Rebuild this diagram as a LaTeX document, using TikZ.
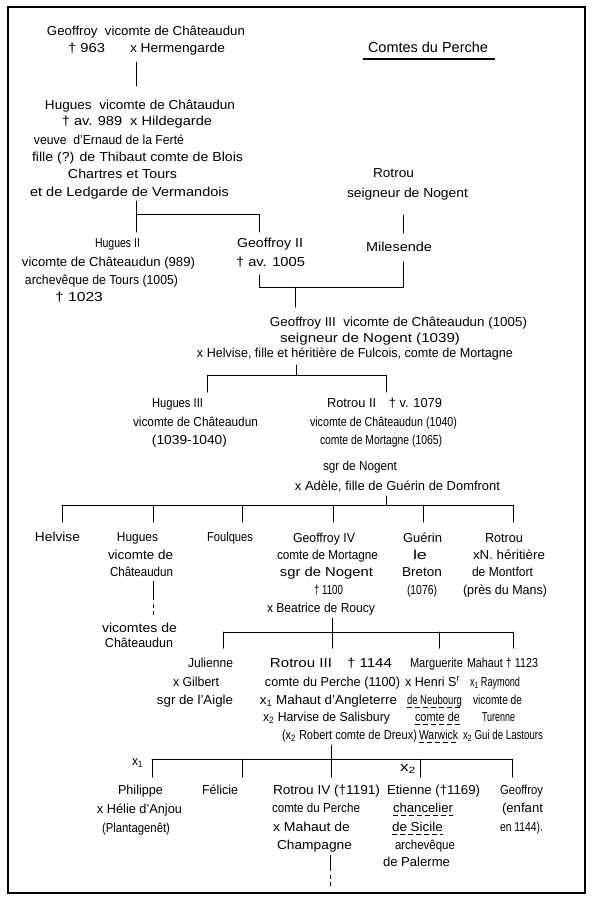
\documentclass[tikz,border=0pt]{standalone}
\usepackage{fontspec}
\setmainfont{Liberation Sans}
\tikzset{
  txt/.style={font=\fontsize{13}{15}\selectfont, anchor=base, inner sep=0pt},
  link/.style={line width=1pt, line cap=round},
  taillink/.style={line width=1pt, dash pattern=on #1 off 4pt on 4pt off 3pt on 4pt off 3pt},
  uline/.style={line width=0.8pt, dash pattern=on 5pt off 3pt},
  frame/.style={line width=1.2pt},
}
\newlength\plen
\newsavebox\pbox
\newcommand\ptext[5]{\plen=\dimexpr #3pt-#2pt\relax
  \node[txt] (#1) at ({(#2+#3)/2},#4+4) {\sbox\pbox{#5}\resizebox{\plen}{\ht\pbox}{\usebox\pbox}};}
\newcommand\dunder[1]{\draw[uline] ([yshift=-3pt]#1.base west) -- ([yshift=-3pt]#1.base east);}
\begin{document}
\begin{tikzpicture}[x=1pt,y=-1pt]
\useasboundingbox (0,0) rectangle (592,900);
\draw[frame] (8,7) rectangle (585,893);

% title
\ptext{title}{368}{488}{48}{\fontsize{14.5}{16}\selectfont Comtes du Perche}
\draw[line width=1.3pt] (363,59) coordinate (tul) -- (495,59) coordinate (tur);

% Geoffroy
\ptext{g1a}{47}{245}{31}{Geoffroy\ \ vicomte de Châteaudun}
\ptext{g1b}{68}{105}{48}{† 963}
\ptext{g1c}{130}{225}{48}{x Hermengarde}
\draw[link] (136,62) coordinate (g1bot) -- (136,86) coordinate (h1top);

% Hugues
\ptext{h1a}{45}{235}{105}{Hugues\ \ vicomte de Châtaudun}
\ptext{h1b}{62}{212}{121}{† av. 989\ \ x Hildegarde}
\ptext{h1c}{34}{184}{140}{veuve\ \ d'Ernaud de la Ferté}
\ptext{h1d}{32}{243}{157}{fille (?) de Thibaut comte de Blois}
\ptext{h1e}{68}{177}{174}{Chartres et Tours}
\ptext{h1f}{30}{229}{192}{et de Ledgarde de Vermandois}
\draw[link] (136,201) coordinate (h1bot) -- (136,214) coordinate (b1l);
\draw[link] (136,232) coordinate (h2top) -- (b1l) -- (259,214) coordinate (b1r) -- (259,232) coordinate (gf2top);

% Hugues II
\ptext{h2a}{95}{140}{243}{Hugues II}
\ptext{h2b}{22}{195}{262}{vicomte de Châteaudun (989)}
\ptext{h2c}{25}{178}{280}{archevêque de Tours (1005)}
\ptext{h2d}{55}{103}{297}{† 1023}

% Geoffroy II
\ptext{gf2a}{237}{303}{243}{Geoffroy II}
\ptext{gf2b}{236}{305}{262}{† av. 1005}

% Rotrou / Milesende
\ptext{r0a}{373}{414}{173}{Rotrou}
\ptext{r0b}{347}{468}{193}{seigneur de Nogent}
\draw[link] (403,215) coordinate (r0bot) -- (403,233) coordinate (miltop);
\ptext{mil}{366}{432}{247}{Milesende}
\draw[link] (259,275) coordinate (gf2bot) -- (259,287) coordinate (b2l) -- (403,287) coordinate (b2r) -- (403,262) coordinate (milbot);
\draw[link] (295,287) coordinate (b2m) -- (295,307) coordinate (g3top);

% Geoffroy III
\ptext{g3a}{270}{527}{322}{Geoffroy III\ \ vicomte de Châteaudun (1005)}
\ptext{g3b}{280}{460}{338}{seigneur de Nogent (1039)}
\ptext{g3c}{197}{513}{353}{x Helvise, fille et héritière de Fulcois, comte de Mortagne}
\draw[link] (296,365) coordinate (g3bot) -- (296,375) coordinate (b3m);
\draw[link] (207,392) coordinate (h3top) -- (207,375) coordinate (b3l) -- (386,375) coordinate (b3r) -- (386,392) coordinate (r2top);

% Hugues III
\ptext{h3a}{152}{203}{403}{Hugues III}
\ptext{h3b}{133}{258}{422}{vicomte de Châteaudun}
\ptext{h3c}{152}{227}{440}{(1039-1040)}

% Rotrou II
\ptext{r2a}{327}{442}{403}{Rotrou II\quad † v. 1079}
\ptext{r2b}{310}{457}{422}{vicomte de Châteaudun (1040)}
\ptext{r2c}{320}{442}{440}{comte de Mortagne (1065)}
\ptext{r2d}{323}{397}{466}{sgr de Nogent}
\ptext{r2e}{295}{500}{486}{x Adèle, fille de Guérin de Domfront}
\draw[link] (386,496) coordinate (r2bot) -- (386,505) coordinate (b4m);
\draw[link] (62,505) coordinate (b4l) -- (513,505) coordinate (b4r);
\foreach \xx/\nn in {62/heltop,153/hu4top,242/foutop,333/g4top,423/guetop,513/rottop}
  \draw[link] (\xx,505) -- (\xx,522) coordinate (\nn);

% row 1
\ptext{hel}{35}{80}{537}{Helvise}
\ptext{hu4a}{117}{158}{537}{Hugues}
\ptext{hu4b}{108}{173}{555}{vicomte de}
\ptext{hu4c}{110}{173}{572}{Châteaudun}
\draw[taillink=19pt] (153,581) coordinate (hu4bot) -- (153,617) coordinate (vctop);
\ptext{vca}{102}{177}{628}{vicomtes de}
\ptext{vcb}{105}{173}{643}{Châteaudun}
\ptext{fou}{207}{253}{537}{Foulques}
\ptext{g4a}{293}{355}{538}{Geoffroy IV}
\ptext{g4b}{277}{378}{555}{comte de Mortagne}
\ptext{g4c}{280}{373}{572}{sgr de Nogent}
\ptext{g4d}{314}{343}{590}{† 1100}
\ptext{g4e}{267}{375}{608}{x Beatrice de Roucy}
\ptext{guea}{403}{442}{538}{Guérin}
\ptext{gueb}{413}{427}{555}{le}
\ptext{guec}{402}{442}{572}{Breton}
\ptext{gued}{407}{437}{590}{(1076)}
\ptext{rota}{485}{523}{538}{Rotrou}
\ptext{rotb}{473}{545}{555}{xN. héritière}
\ptext{rotc}{472}{533}{572}{de Montfort}
\ptext{rotd}{463}{547}{590}{(près du Mans)}

\draw[link] (332,618) coordinate (g4bot) -- (332,632) coordinate (b5m);
\draw[link] (223,632) coordinate (b5l) -- (513,632) coordinate (b5r);
\foreach \xx/\nn in {223/jultop,332/r3top,439/martop,513/mahtop}
  \draw[link] (\xx,632) -- (\xx,648) coordinate (\nn);

% row 2
\ptext{jula}{188}{233}{663}{Julienne}
\ptext{julb}{173}{219}{682}{x Gilbert}
\ptext{julc}{157}{233}{700}{sgr de l'Aigle}
\ptext{r3a}{270}{392}{663}{Rotrou III\quad † 1144}
\ptext{r3b}{265}{400}{682}{comte du Perche (1100)}
\ptext{r3c}{260}{397}{700}{x\textsubscript{1} Mahaut d'Angleterre}
\ptext{r3d}{263}{390}{717}{x\textsubscript{2} Harvise de Salisbury}
\ptext{r3e}{282}{417}{735}{(x\textsubscript{2} Robert comte de Dreux)}
\ptext{mara}{410}{463}{663}{Marguerite}
\ptext{marb}{405}{460}{682}{x Henri S\textsuperscript{r}}
\ptext{marc}{407}{462}{700}{de Neubourg}
\ptext{mard}{415}{460}{717}{comte de}
\ptext{mare}{419}{458}{735}{Warwick}
\dunder{marc}\dunder{mard}\dunder{mare}
\ptext{maha}{467}{538}{663}{Mahaut † 1123}
\ptext{mahb}{470}{520}{682}{x\textsubscript{1} Raymond}
\ptext{mahc}{473}{522}{700}{vicomte de}
\ptext{mahd}{482}{515}{717}{Turenne}
\ptext{mahe}{463}{543}{735}{x\textsubscript{2} Gui de Lastours}

\draw[link] (331,745) coordinate (r3bot) -- (331,759) coordinate (b6m);
\draw[link] (152,759) coordinate (b6l) -- (512,759) coordinate (b6r);
\foreach \xx/\nn in {152/phitop,242/feltop,331/r4top,420/etitop,512/geotop}
  \draw[link] (\xx,759) -- (\xx,777) coordinate (\nn);
\ptext{x1}{132}{143}{761}{x\textsubscript{1}}
\ptext{x2}{400}{416}{767}{x\textsubscript{2}}

% row 3
\ptext{phia}{118}{163}{790}{Philippe}
\ptext{phib}{97}{182}{809}{x Hélie d'Anjou}
\ptext{phic}{102}{170}{828}{(Plantagenêt)}
\ptext{fel}{202}{238}{790}{Félicie}
\ptext{r4a}{273}{380}{790}{Rotrou IV (†1191)}
\ptext{r4b}{272}{360}{808}{comte du Perche}
\ptext{r4c}{273}{350}{827}{x Mahaut de}
\ptext{r4d}{277}{352}{845}{Champagne}
\draw[taillink=16pt] (330,855) coordinate (r4bot) -- (330,887) coordinate (r4end);
\ptext{etia}{387}{480}{790}{Etienne (†1169)}
\ptext{etib}{393}{453}{808}{chancelier}
\ptext{etic}{392}{443}{827}{de Sicile}
\dunder{etib}\dunder{etic}
\ptext{etid}{395}{455}{845}{archevêque}
\ptext{etie}{383}{450}{862}{de Palerme}
\ptext{geoa}{500}{543}{790}{Geoffroy}
\ptext{geob}{502}{543}{808}{(enfant}
\ptext{geoc}{500}{543}{827}{en 1144).}
\end{tikzpicture}
\end{document}
